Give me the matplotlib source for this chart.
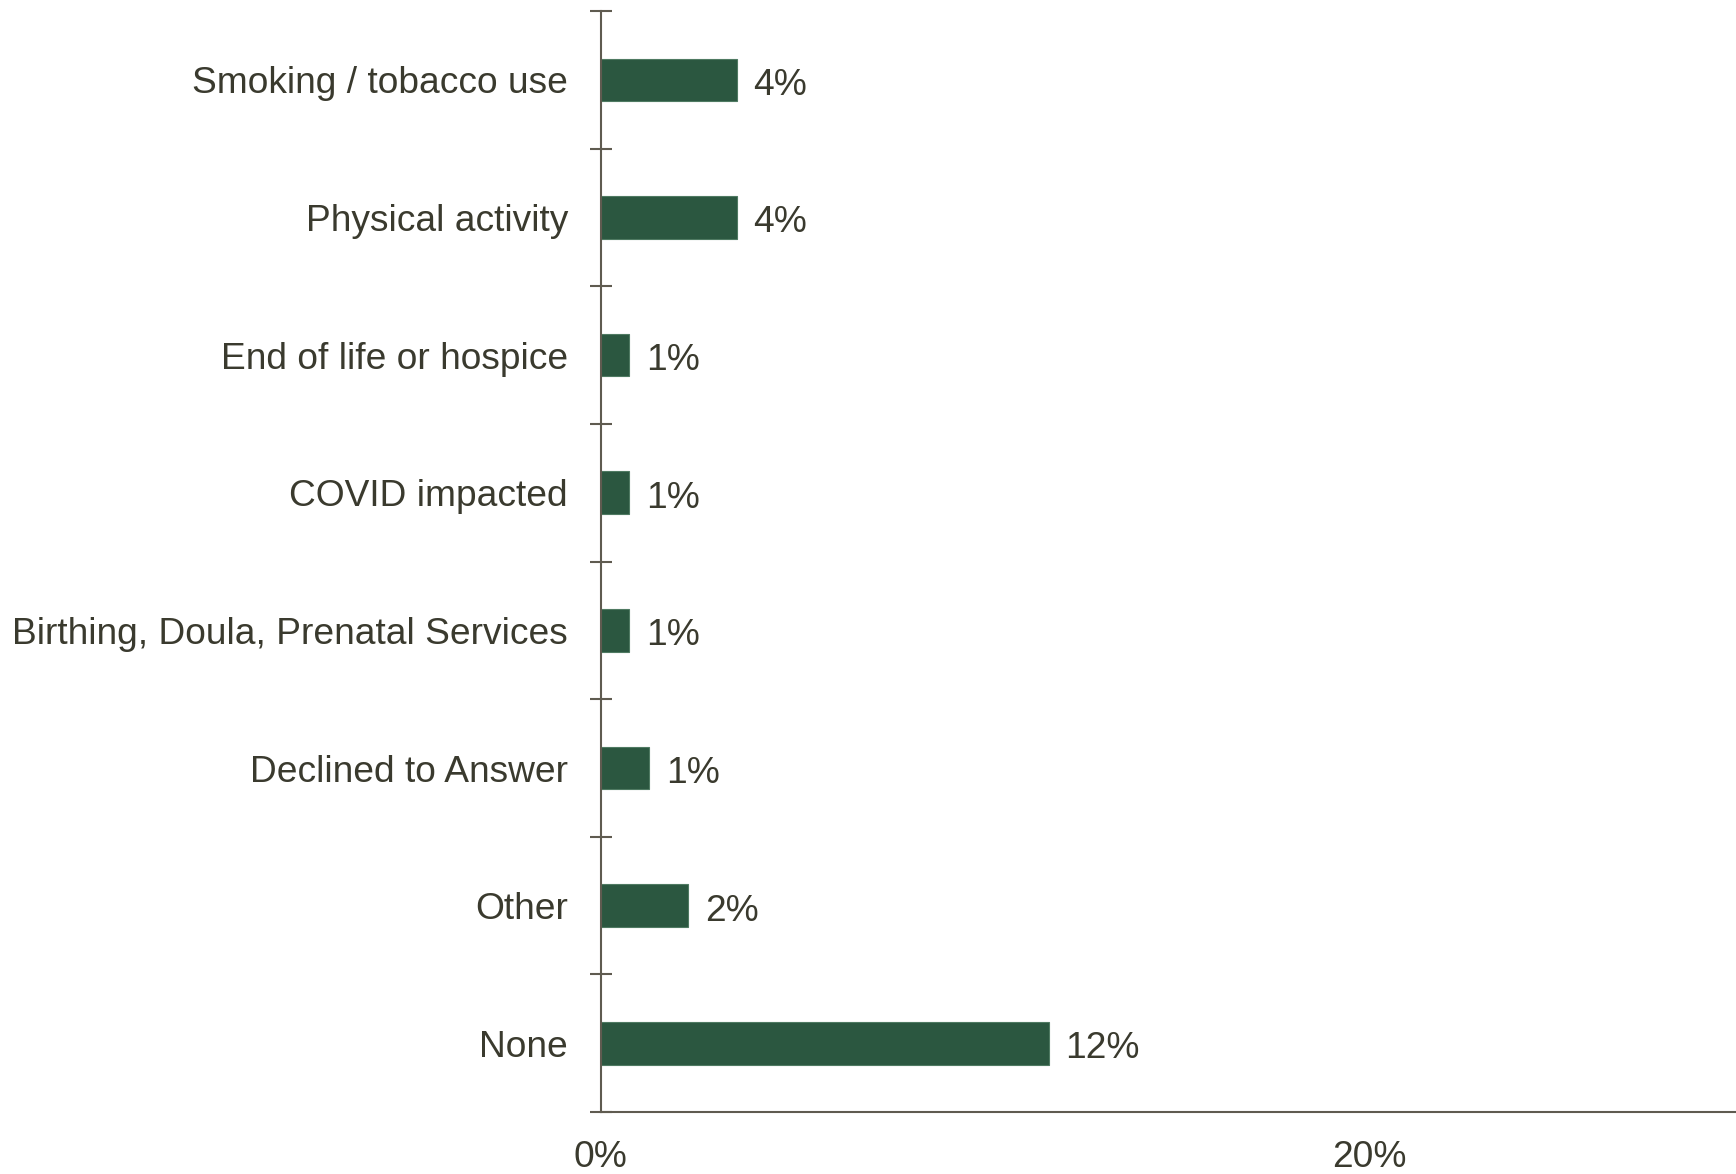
import numpy as np
import matplotlib.pyplot as plt

# survey categories, top to bottom
categories = [
    'Smoking / tobacco use',
    'Physical activity',
    'End of life or hospice',
    'COVID impacted',
    'Birthing, Doula, Prenatal Services',
    'Declined to Answer',
    'Other',
    'None',
]
# share of respondents (%)
values = [3.54, 3.54, 0.75, 0.75, 0.75, 1.27, 2.28, 11.67]

xticks = [0, 20]
xticklabels = ['0%', '20%']

bar_color = '#2b5740'
text_color = '#3a3a2e'
axis_color = '#5f5b50'

plt.rcParams['font.family'] = ['Liberation Sans', 'DejaVu Sans']
fs = 26.7

fig = plt.figure(figsize=(17.36, 11.74), dpi=100)
ax = fig.add_axes([0.346, 0.0527, 0.654, 0.9379])

ypos = np.arange(len(categories))
ax.barh(ypos, values, height=0.31, color=bar_color, edgecolor='#4f7a62', linewidth=0.8)

for y, v in zip(ypos, values):
    ax.text(v + 0.43, y + 0.01, '{:.0f}%'.format(v), va='center_baseline', ha='left',
            fontsize=fs, color=text_color)

ax.set_xlim(0, 29.55)
ax.set_ylim(len(categories) - 0.5, -0.5)

ax.set_yticks(ypos)
ax.set_yticklabels(categories, fontsize=fs, color=text_color)
ax.set_yticks(np.arange(-0.5, len(categories)), minor=True)
ax.tick_params(axis='y', which='major', length=0, pad=23.5)
ax.tick_params(axis='y', which='minor', direction='inout', length=15.8,
               width=1.5, color=axis_color)

ax.set_xticks(xticks)
ax.set_xticklabels(xticklabels, fontsize=fs, color=text_color)
ax.tick_params(axis='x', length=0, pad=20)

for side in ['top', 'right']:
    ax.spines[side].set_visible(False)
for side in ['left', 'bottom']:
    ax.spines[side].set_color(axis_color)
    ax.spines[side].set_linewidth(1.5)

fig.savefig('out.png', dpi=100)
